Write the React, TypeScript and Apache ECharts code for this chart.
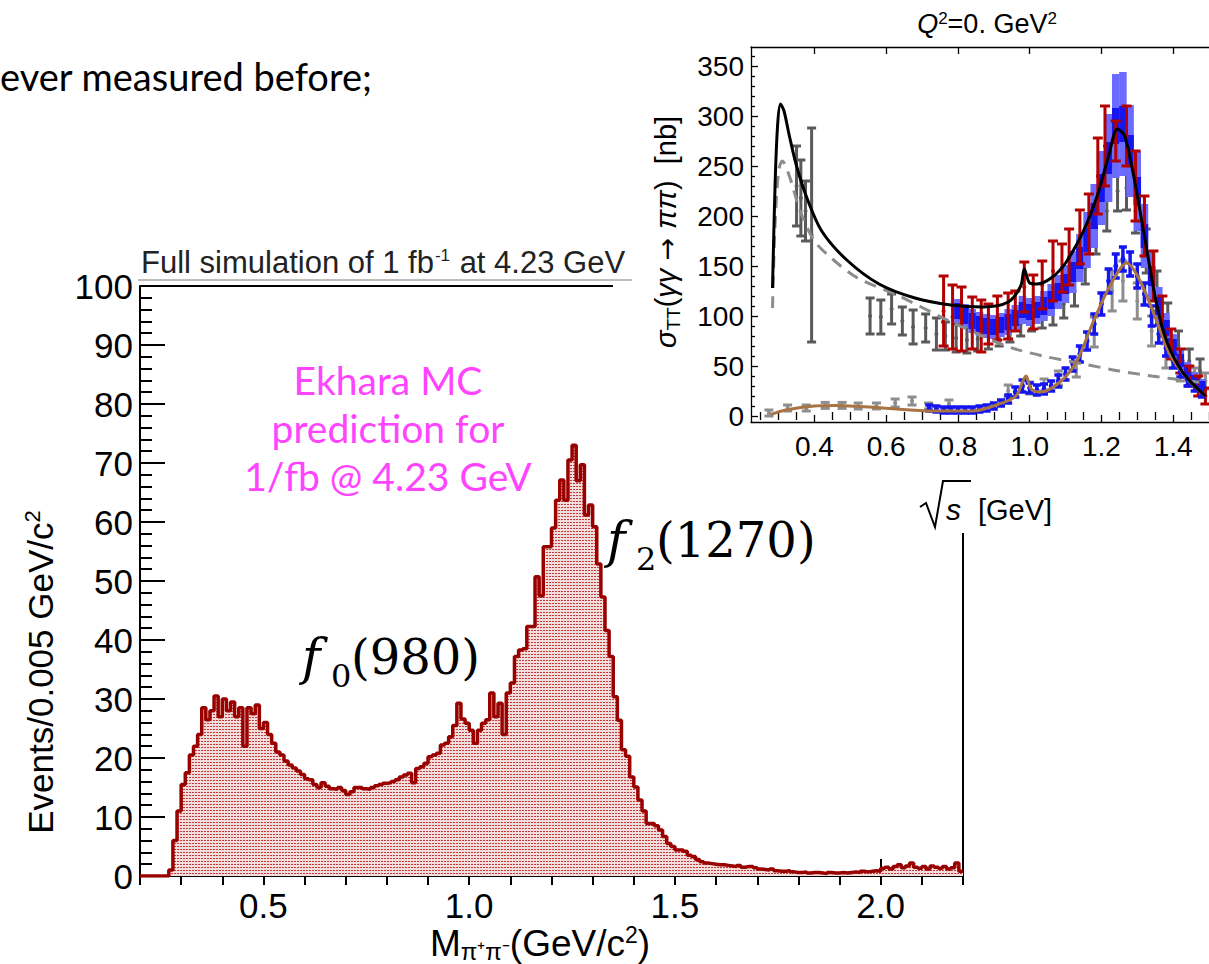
import React, { useEffect, useRef } from "react";
import * as echarts from "echarts";

// ---------------- Main histogram (M_pipi) ----------------
const binStart = 0.2;
const binWidth = 0.01;
const mainCounts = [
  0, 0, 0, 0, 0, 0, 0, 1, 6, 11,
  15.5, 17.5, 20.5, 22, 24, 28.5, 26.5, 28, 30.5, 27,
  30, 28, 29.5, 27, 28.5, 22, 28.5, 27.5, 29, 25,
  26, 24, 22.5, 21, 20.5, 19.5, 18.8, 18.3, 17.8, 17.2,
  16.5, 16.3, 15.5, 15, 15.8, 15.2, 14.8, 14.7, 15, 14.5,
  13.8, 14.3, 15, 15, 14.8, 14.7, 15, 15.3, 15.5, 15.7,
  15.8, 16, 16.3, 16.8, 17.1, 17.4, 15.8, 18.2, 18.5, 19.1,
  20.2, 20.5, 20.8, 22.2, 22.5, 23.6, 25.5, 29.3, 26.6, 25.9,
  24.7, 22.5, 24.7, 25.9, 26.5, 31, 27, 29.3, 24, 31,
  32.7, 37.2, 38.3, 38.5, 42.3, 42.3, 50.7, 47.5, 55.8, 55.8,
  59, 63.7, 67.1, 63.7, 70.5, 73, 67, 69.7, 61.2, 62.9,
  59.2, 52.9, 47.3, 41.6, 37.2, 30.4, 26.4, 21.4, 20.3, 16.8,
  15.1, 12.9, 11, 8.9, 8.9, 8.5, 7.8, 6.7, 5.5, 5.0,
  4.4, 4.4, 4.2, 3.5, 3.3, 2.8, 2.4, 2.2, 2.1, 2.0,
  1.9, 1.9, 1.8, 1.7, 1.6, 1.8, 1.5, 1.6, 1.6, 1.4,
  1.2, 1.1, 1.0, 1.2, 0.9, 0.8, 0.8, 0.9, 0.7, 0.6,
  0.6, 0.7, 0.5, 0.6, 0.6, 0.5, 0.4, 0.6, 0.5, 0.5,
  0.6, 0.5, 0.6, 0.7, 0.6, 0.8, 0.7, 0.8, 0.9, 0.8,
  1.3, 1.5, 1.2, 1.6, 1.9, 1.4, 1.7, 2.2, 1.5, 1.3,
  1.6, 1.2, 1.7, 1.5, 1.3, 1.6, 1.2, 1.4, 2.2, 0.8,
];
const mainXMajor = [0.5, 1.0, 1.5, 2.0];
const mainXMinor = [0.2, 0.3, 0.4, 0.5, 0.6, 0.7, 0.8, 0.9, 1.0, 1.1, 1.2, 1.3, 1.4, 1.5, 1.6, 1.7, 1.8, 1.9, 2.0, 2.1, 2.2];

// ---------------- Inset: sigma_TT(gamma gamma -> pi pi) ----------------
const insetXMajor = [0.4, 0.6, 0.8, 1.0, 1.2, 1.4];
const insetXMinor = [0.25, 0.3, 0.35, 0.45, 0.5, 0.55, 0.65, 0.7, 0.75, 0.85, 0.9, 0.95, 1.05, 1.1, 1.15, 1.25, 1.3, 1.35, 1.45, 1.5];
const insetYMajor = [0, 50, 100, 150, 200, 250, 300, 350];
const insetYMinor = [10, 20, 30, 40, 60, 70, 80, 90, 110, 120, 130, 140, 160, 170, 180, 190, 210, 220, 230, 240, 260, 270, 280, 290, 310, 320, 330, 340, 360];

// total cross section fit (black)
const blackCurve = [
  [0.283, 128], [0.29, 230], [0.297, 290], [0.305, 312], [0.315, 305], [0.33, 280], [0.35, 250],
  [0.38, 217], [0.42, 185], [0.49, 156], [0.58, 132], [0.68, 118], [0.78, 111], [0.87, 109],
  [0.94, 114], [0.975, 130], [0.985, 147], [1.0, 133], [1.02, 132], [1.06, 138], [1.1, 153],
  [1.15, 185], [1.19, 222], [1.22, 260], [1.245, 287], [1.265, 280], [1.29, 240], [1.32, 180],
  [1.355, 110], [1.385, 72], [1.43, 42], [1.49, 20],
];
// dashed grey curve
const dashedCurve = [
  [0.283, 108], [0.29, 190], [0.3, 245], [0.31, 255], [0.33, 240], [0.36, 205], [0.4, 175],
  [0.45, 157], [0.52, 138], [0.63, 121], [0.77, 96], [0.9, 75], [0.96, 67], [1.05, 59],
  [1.15, 52], [1.25, 45], [1.34, 40], [1.49, 33],
];
// brown curve (lower)
const brownCurve = [
  [0.278, 1.5], [0.32, 6], [0.4, 10], [0.46, 10.5], [0.59, 8], [0.73, 5], [0.84, 5], [0.915, 12],
  [0.962, 20], [0.99, 40], [1.004, 27], [1.03, 24], [1.083, 33.5], [1.13, 54], [1.177, 94],
  [1.225, 131], [1.271, 153], [1.308, 135], [1.355, 94], [1.393, 60], [1.449, 33.5], [1.49, 20],
];
// [x, value, half error]
const grayLowData = [
  [0.35, 230, 40], [0.362, 218, 38], [0.375, 205, 30], [0.392, 181, 107],
];
const grayMidData = [
  [0.555, 100, 18], [0.585, 99, 17], [0.615, 107, 15], [0.645, 95, 14], [0.675, 89, 17],
  [0.71, 88, 14], [0.74, 82, 16], [0.765, 80, 14], [0.795, 78, 14], [0.825, 76, 13],
  [0.855, 77, 12], [0.885, 79, 12], [0.915, 82, 12], [0.945, 86, 12], [0.975, 92, 12],
  [1.005, 97, 12], [1.035, 100, 12], [1.065, 104, 13], [1.095, 112, 14], [1.125, 125, 15],
  [1.155, 148, 16], [1.185, 180, 18], [1.215, 205, 20], [1.245, 225, 20], [1.27, 228, 22],
  [1.295, 205, 22], [1.325, 165, 22], [1.355, 125, 20], [1.385, 95, 18], [1.415, 70, 15],
  [1.445, 55, 12], [1.475, 45, 12],
];
const grayLightData = [
  [0.273, 3, 3], [0.325, 8, 3], [0.377, 8, 3], [0.43, 10.6, 3], [0.477, 10.6, 3], [0.522, 10, 3],
  [0.573, 10, 3], [0.625, 13, 4], [0.672, 15, 4], [0.718, 10, 3], [0.775, 12, 4],
  [0.94, 25, 6], [1.0, 28, 6], [1.04, 31, 6], [1.08, 38, 7], [1.13, 47, 8], [1.18, 84, 15],
  [1.23, 125, 20], [1.26, 135, 20], [1.3, 115, 18], [1.34, 85, 15], [1.38, 60, 12],
  [1.42, 45, 10], [1.46, 40, 8], [1.49, 35, 8],
];
const redData = [
  [0.76, 105, 35], [0.785, 99, 32], [0.81, 97, 32], [0.84, 93, 26], [0.865, 90, 26],
  [0.885, 92, 20], [0.91, 98, 22], [0.94, 100, 23], [0.96, 105, 20], [0.985, 129, 25],
  [1.01, 114, 27], [1.035, 131, 24], [1.065, 145, 30], [1.09, 148, 24], [1.11, 159, 28],
  [1.14, 179, 27], [1.165, 192, 30], [1.19, 240, 38], [1.21, 270, 40], [1.24, 275, 20],
  [1.27, 280, 30], [1.295, 230, 35], [1.32, 190, 30], [1.345, 140, 25], [1.37, 100, 20],
  [1.395, 72, 15], [1.42, 55, 12], [1.445, 40, 10], [1.47, 30, 10], [1.49, 20, 8],
];
// [x, value, stat error, total error]
const blueUpperData = [
  [0.8, 105, 8, 12], [0.82, 100, 8, 12], [0.84, 95, 8, 12], [0.86, 92, 8, 12], [0.88, 90, 8, 12],
  [0.9, 89, 8, 12], [0.92, 91, 8, 12], [0.94, 94, 8, 13], [0.96, 98, 8, 13], [0.98, 106, 8, 14],
  [1.0, 104, 8, 14], [1.02, 106, 8, 14], [1.04, 110, 9, 15], [1.06, 116, 9, 16], [1.08, 124, 9, 17],
  [1.1, 132, 10, 19], [1.12, 144, 10, 21], [1.14, 158, 11, 24], [1.16, 176, 12, 28], [1.18, 200, 13, 32],
  [1.2, 228, 14, 37], [1.22, 258, 16, 44], [1.24, 290, 18, 52], [1.26, 292, 18, 52], [1.28, 265, 16, 46],
  [1.3, 225, 14, 40], [1.32, 180, 12, 32], [1.34, 140, 10, 25], [1.36, 110, 9, 19], [1.38, 88, 8, 15],
  [1.4, 70, 7, 12], [1.42, 56, 6, 10], [1.44, 45, 6, 9], [1.46, 36, 5, 8], [1.48, 30, 5, 7],
];
const blueLowerData = [
  [0.72, 8, 3], [0.74, 7, 3], [0.76, 6, 3], [0.78, 6, 3], [0.8, 6, 3], [0.82, 6, 3], [0.84, 6, 3],
  [0.86, 7, 3], [0.88, 8, 3], [0.9, 10, 3], [0.92, 13, 3], [0.94, 17, 4], [0.96, 24, 5], [0.98, 30, 6],
  [1.0, 28, 5], [1.02, 26, 5], [1.04, 27, 5], [1.06, 30, 5], [1.08, 35, 6], [1.1, 42, 6],
  [1.12, 52, 7], [1.14, 62, 8], [1.16, 75, 9], [1.18, 92, 10], [1.2, 112, 11], [1.22, 135, 12],
  [1.24, 150, 12], [1.26, 157, 12], [1.28, 152, 12], [1.3, 140, 12], [1.32, 122, 11], [1.34, 100, 10],
  [1.36, 82, 9], [1.38, 68, 8], [1.4, 55, 7], [1.42, 45, 6], [1.44, 36, 6], [1.46, 30, 5], [1.48, 24, 5],
];

const SANS = "'Liberation Sans', Arial, Helvetica, sans-serif";
const DJS = "'DejaVu Sans', sans-serif";
const CAL = "Lato, 'Open Sans', sans-serif";
const MATH = "'DejaVu Serif', 'Liberation Serif', serif";

function errorBars(color: string, capW: number, lw: number, dot: number) {
  return (params: any, api: any) => {
    const x = api.value(0);
    const y = api.value(1);
    const e = api.value(2);
    const top = api.coord([x, y + e]);
    const bot = api.coord([x, y - e]);
    const c = api.coord([x, y]);
    const st = { stroke: color, lineWidth: lw };
    return {
      type: "group",
      children: [
        { type: "line", shape: { x1: top[0], y1: top[1], x2: bot[0], y2: bot[1] }, style: st },
        { type: "line", shape: { x1: top[0] - capW / 2, y1: top[1], x2: top[0] + capW / 2, y2: top[1] }, style: st },
        { type: "line", shape: { x1: bot[0] - capW / 2, y1: bot[1], x2: bot[0] + capW / 2, y2: bot[1] }, style: st },
        { type: "circle", shape: { cx: c[0], cy: c[1], r: dot }, style: { fill: color } },
      ],
    };
  };
}

function bandBars(params: any, api: any) {
  const x = api.value(0);
  const y = api.value(1);
  const es = api.value(2);
  const et = api.value(3);
  const w = api.size([0.021, 0])[0];
  const t1 = api.coord([x, y + et]);
  const b1 = api.coord([x, y - et]);
  const t2 = api.coord([x, y + es]);
  const b2 = api.coord([x, y - es]);
  return {
    type: "group",
    children: [
      { type: "rect", shape: { x: t1[0] - w / 2, y: t1[1], width: w, height: b1[1] - t1[1] }, style: { fill: "#6b6bff" } },
      { type: "rect", shape: { x: t2[0] - w / 2, y: t2[1], width: w, height: b2[1] - t2[1] }, style: { fill: "#1515f0" } },
    ],
  };
}

// rotated multi-part label laid out with canvas text metrics
function rotatedLabel(cx: number, cy: number, parts: { t: string; font: string; dy: number }[]) {
  const ctx = document.createElement("canvas").getContext("2d") as CanvasRenderingContext2D;
  const widths = parts.map((p) => {
    ctx.font = p.font;
    return ctx.measureText(p.t).width;
  });
  const total = widths.reduce((a, b) => a + b, 0);
  let off = -total / 2;
  const children = parts.map((p, i) => {
    const el = { type: "text", x: off, y: p.dy, style: { text: p.t, font: p.font, fill: "#000", verticalAlign: "middle", align: "left" } };
    off += widths[i];
    return el;
  });
  return { type: "group", x: cx, y: cy, rotation: Math.PI / 2, children };
}

export default function App() {
  const ref = useRef<HTMLDivElement>(null);
  useEffect(() => {
    if (!ref.current) return;
    const chart = echarts.init(ref.current, undefined, { renderer: "svg" });

    // dotted fill pattern
    const cv = document.createElement("canvas");
    cv.width = 3;
    cv.height = 3;
    const ctx = cv.getContext("2d");
    if (ctx) {
      ctx.fillStyle = "#f3dcdc";
      ctx.fillRect(0, 0, 3, 3);
      ctx.fillStyle = "#c43a3a";
      ctx.fillRect(0, 0, 2, 1);
    }

    const histData: number[][] = mainCounts.map((v, i) => [+(binStart + i * binWidth).toFixed(3), v]);
    histData.push([+(binStart + mainCounts.length * binWidth).toFixed(3), mainCounts[mainCounts.length - 1]]);

    const tickLine = { color: "#000", width: 2 };
    const insetTick = { color: "#000", width: 1.3 };

    const insetYTitle = rotatedLabel(666, 232, [
      { t: "σ", font: `italic 29px ${SANS}`, dy: 0 },
      { t: "TT", font: `19px ${SANS}`, dy: 7 },
      { t: "(", font: `29px ${SANS}`, dy: 0 },
      { t: "γγ", font: `italic 29px ${SANS}`, dy: 0 },
      { t: " → ", font: `27px ${DJS}`, dy: 0 },
      { t: "ππ", font: `italic 29px ${SANS}`, dy: 0 },
      { t: ")  [nb]", font: `29px ${SANS}`, dy: 0 },
    ]);

    const option: any = {
      animation: false,
      backgroundColor: "#fff",
      grid: [
        { left: 140, top: 286, right: 246, bottom: 88, show: false },
        { left: 751, top: 47, right: -2, bottom: 542, show: false },
      ],
      xAxis: [
        {
          type: "value", gridIndex: 0, min: 0.2, max: 2.2,
          axisLine: { show: true, onZero: false, lineStyle: tickLine },
          axisTick: { show: true, inside: true, length: 17, customValues: mainXMajor, lineStyle: tickLine },
          axisLabel: { show: true, customValues: mainXMajor, formatter: (v: number) => v.toFixed(1), fontSize: 35, fontFamily: SANS, color: "#000", margin: 12 },
          splitLine: { show: false },
        },
        {
          type: "value", gridIndex: 0, min: 0.2, max: 2.2,
          axisLine: { show: false },
          axisTick: { show: true, inside: true, length: 9, customValues: mainXMinor, lineStyle: tickLine },
          axisLabel: { show: false },
          splitLine: { show: false },
        },
        {
          type: "value", gridIndex: 1, min: 0.223, max: 1.5, position: "bottom",
          axisLine: { show: true, onZero: false, lineStyle: insetTick },
          axisTick: { show: true, inside: true, length: 7, customValues: insetXMajor, lineStyle: insetTick },
          axisLabel: { show: true, customValues: insetXMajor, formatter: (v: number) => v.toFixed(1), fontSize: 28, fontFamily: SANS, color: "#000", margin: 10 },
          splitLine: { show: false },
        },
        {
          type: "value", gridIndex: 1, min: 0.223, max: 1.5, position: "bottom",
          axisLine: { show: false },
          axisTick: { show: true, inside: true, length: 4, customValues: insetXMinor, lineStyle: insetTick },
          axisLabel: { show: false },
          splitLine: { show: false },
        },
        {
          type: "value", gridIndex: 1, min: 0.223, max: 1.5, position: "top",
          axisLine: { show: true, onZero: false, lineStyle: insetTick },
          axisTick: { show: true, inside: true, length: 7, customValues: insetXMajor, lineStyle: insetTick },
          axisLabel: { show: false },
          splitLine: { show: false },
        },
        {
          type: "value", gridIndex: 1, min: 0.223, max: 1.5, position: "top",
          axisLine: { show: false },
          axisTick: { show: true, inside: true, length: 4, customValues: insetXMinor, lineStyle: insetTick },
          axisLabel: { show: false },
          splitLine: { show: false },
        },
      ],
      yAxis: [
        {
          type: "value", gridIndex: 0, min: 0, max: 100, interval: 10,
          axisLine: { show: true, onZero: false, lineStyle: tickLine },
          axisTick: { show: true, inside: true, length: 25, lineStyle: tickLine },
          minorTick: { show: true, splitNumber: 5, length: 12, lineStyle: tickLine },
          axisLabel: { show: true, fontSize: 35, fontFamily: SANS, color: "#000", margin: 7 },
          splitLine: { show: false },
          minorSplitLine: { show: false },
        },
        {
          type: "value", gridIndex: 1, min: -6, max: 369, position: "left",
          axisLine: { show: true, onZero: false, lineStyle: insetTick },
          axisTick: { show: true, inside: true, length: 7, customValues: insetYMajor, lineStyle: insetTick },
          axisLabel: { show: true, customValues: insetYMajor, fontSize: 28, fontFamily: SANS, color: "#000", margin: 7 },
          splitLine: { show: false },
        },
        {
          type: "value", gridIndex: 1, min: -6, max: 369, position: "left",
          axisLine: { show: false },
          axisTick: { show: true, inside: true, length: 4, customValues: insetYMinor, lineStyle: insetTick },
          axisLabel: { show: false },
          splitLine: { show: false },
        },
      ],
      series: [
        {
          type: "line", xAxisIndex: 0, yAxisIndex: 0, data: histData, step: "end", symbol: "none",
          lineStyle: { color: "#990000", width: 3.5 },
          areaStyle: { color: { image: cv, repeat: "repeat" }, opacity: 1, origin: "start" },
          z: 3,
        },
        // inset
        { type: "custom", xAxisIndex: 2, yAxisIndex: 1, data: grayLightData, renderItem: errorBars("#8e8e8e", 9, 3, 2), z: 4 },
        { type: "custom", xAxisIndex: 2, yAxisIndex: 1, data: grayMidData, renderItem: errorBars("#5a5a5a", 9, 3, 2), z: 5 },
        { type: "custom", xAxisIndex: 2, yAxisIndex: 1, data: grayLowData, renderItem: errorBars("#5a5a5a", 9, 3, 2), z: 5 },
        { type: "custom", xAxisIndex: 2, yAxisIndex: 1, data: blueUpperData, renderItem: bandBars, z: 6 },
        { type: "custom", xAxisIndex: 2, yAxisIndex: 1, data: redData, renderItem: errorBars("#b30000", 10, 3, 2), z: 7 },
        { type: "custom", xAxisIndex: 2, yAxisIndex: 1, data: blueLowerData, renderItem: errorBars("#1515f0", 8, 3.5, 2.5), z: 7 },
        {
          type: "line", xAxisIndex: 2, yAxisIndex: 1, data: dashedCurve, smooth: 0.3, symbol: "none",
          lineStyle: { color: "#8c8c8c", width: 3, type: [12, 8] }, z: 8,
        },
        {
          type: "line", xAxisIndex: 2, yAxisIndex: 1, data: brownCurve, smooth: 0.3, symbol: "none",
          lineStyle: { color: "#a87444", width: 3 }, z: 9,
        },
        {
          type: "line", xAxisIndex: 2, yAxisIndex: 1, data: blackCurve, smooth: 0.3, symbol: "none",
          lineStyle: { color: "#000", width: 3 }, z: 10,
        },
      ],
      graphic: [
        // slide text
        { type: "text", left: 0, top: 57, style: { text: "ever measured before;", font: `38px ${CAL}`, fill: "#000" } },
        // title box
        {
          type: "text", x: 141, y: 262,
          style: {
            text: "{a|Full simulation of 1 fb}{s|-1}{a| at 4.23 GeV}",
            verticalAlign: "middle", align: "left", fill: "#222",
            rich: {
              a: { fontSize: 31, fontFamily: SANS, fill: "#222" },
              s: { fontSize: 17, fontFamily: SANS, fill: "#222", verticalAlign: "top", padding: [0, 1, 14, 1] },
            },
          },
        },
        { type: "line", shape: { x1: 138, y1: 280, x2: 632, y2: 280 }, style: { stroke: "#bdbdbd", lineWidth: 2 } },
        // frame lines of main pad
        { type: "line", shape: { x1: 140, y1: 286, x2: 613, y2: 286 }, style: { stroke: "#000", lineWidth: 2 } },
        { type: "line", shape: { x1: 963, y1: 533, x2: 963, y2: 876 }, style: { stroke: "#000", lineWidth: 2 } },
        // Ekhara annotation
        {
          type: "text", x: 388, y: 428,
          style: {
            text: "Ekhara MC\nprediction for\n1/fb @ 4.23 GeV",
            font: `39px ${CAL}`, fill: "#ff44ff", align: "center", verticalAlign: "middle", lineHeight: 48,
          },
        },
        // f0(980)
        { type: "text", x: 302, y: 657, style: { text: "f", font: `italic 50px ${MATH}`, fill: "#000", verticalAlign: "middle" } },
        { type: "text", x: 331, y: 676, style: { text: "0", font: `32px ${MATH}`, fill: "#000", verticalAlign: "middle" } },
        { type: "text", x: 351, y: 657, style: { text: "(980)", font: `48px ${MATH}`, fill: "#000", verticalAlign: "middle" } },
        // f2(1270)
        { type: "text", x: 607, y: 540, style: { text: "f", font: `italic 50px ${MATH}`, fill: "#000", verticalAlign: "middle" } },
        { type: "text", x: 636, y: 559, style: { text: "2", font: `32px ${MATH}`, fill: "#000", verticalAlign: "middle" } },
        { type: "text", x: 656, y: 540, style: { text: "(1270)", font: `48px ${MATH}`, fill: "#000", verticalAlign: "middle" } },
        // main y title
        {
          type: "text", x: 40, y: 672, rotation: Math.PI / 2,
          style: {
            text: "{a|Events/0.005 GeV/c}{s|2}", align: "center", verticalAlign: "middle",
            rich: {
              a: { fontSize: 35, fontFamily: SANS, fill: "#000" },
              s: { fontSize: 22, fontFamily: SANS, fill: "#000", verticalAlign: "top", padding: [0, 0, 16, 0] },
            },
          },
        },
        // main x title
        {
          type: "text", x: 540, y: 943,
          style: {
            text: "{a|M}{b|π⁺π⁻}{a|(GeV/c}{s|2}{a|)}", align: "center", verticalAlign: "middle",
            rich: {
              a: { fontSize: 37, fontFamily: SANS, fill: "#000" },
              b: { fontSize: 24, fontFamily: SANS, fill: "#000", verticalAlign: "bottom", padding: [16, 0, 0, 0] },
              s: { fontSize: 23, fontFamily: SANS, fill: "#000", verticalAlign: "top", padding: [0, 0, 16, 0] },
            },
          },
        },
        // inset title
        {
          type: "text", x: 987, y: 24,
          style: {
            text: "{q|Q}{s|2}{a|=0. GeV}{s|2}", align: "center", verticalAlign: "middle",
            rich: {
              q: { fontSize: 27, fontFamily: SANS, fontStyle: "italic", fill: "#000" },
              a: { fontSize: 27, fontFamily: SANS, fill: "#000" },
              s: { fontSize: 17, fontFamily: SANS, fill: "#000", verticalAlign: "top", padding: [0, 0, 12, 0] },
            },
          },
        },
        // inset y title
        insetYTitle,
        // inset x title: sqrt(s) [GeV]
        {
          type: "polyline",
          shape: { points: [[920, 507], [926, 503], [935, 527], [943, 481], [971, 481]] },
          style: { stroke: "#000", lineWidth: 2, fill: "none" },
        },
        { type: "text", x: 946, y: 509, style: { text: "s", font: `italic 30px ${SANS}`, fill: "#000", verticalAlign: "middle" } },
        { type: "text", x: 978, y: 510, style: { text: "[GeV]", font: `29px ${SANS}`, fill: "#000", verticalAlign: "middle" } },
      ],
    };

    chart.setOption(option);
    return () => chart.dispose();
  }, []);

  return <div ref={ref} style={{ position: "absolute", left: 0, top: 0, width: 1209, height: 964 }} />;
}
